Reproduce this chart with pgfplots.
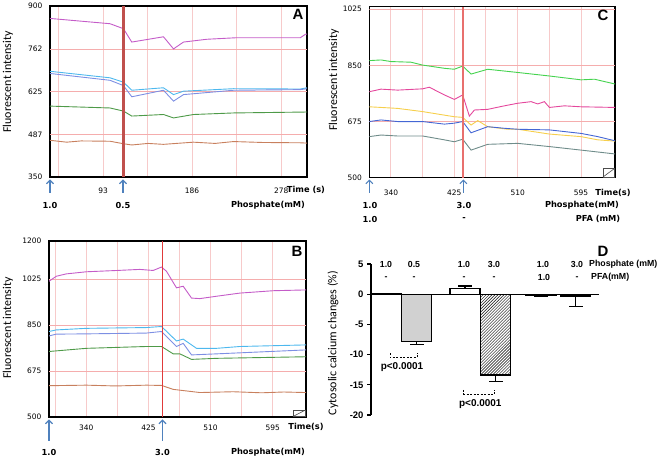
\documentclass[border=0pt]{standalone}
\usepackage{fontspec}
\setmainfont{Carlito}
\newfontfamily\verd{DejaVu Sans}
\newfontfamily\ari{Liberation Sans}
\usepackage{pgfplots}
\pgfplotsset{compat=1.18}
\usetikzlibrary{patterns,arrows.meta}

\definecolor{amag}{HTML}{C45CC8}
\definecolor{alb}{HTML}{4DB8EE}
\definecolor{ablu}{HTML}{7D8FE3}
\definecolor{agrn}{HTML}{4E9A48}
\definecolor{abrn}{HTML}{C8805E}
\definecolor{cgrn}{HTML}{45D34F}
\definecolor{cmag}{HTML}{E4479C}
\definecolor{cyel}{HTML}{F6CF4C}
\definecolor{cblu}{HTML}{4466D4}
\definecolor{cgry}{HTML}{6F8C8A}
\definecolor{arrowblue}{HTML}{4F81BD}
\definecolor{redA}{HTML}{C0504D}
\definecolor{redB}{HTML}{E03A3A}
\definecolor{redC}{HTML}{E8706E}
\definecolor{gridv}{HTML}{F7CACA}
\definecolor{gridh}{HTML}{F5ADAD}

\pgfplotsset{panel/.style={anchor=south west, scale only axis,
  axis line style={black,line width=1.2bp}, major tick length=0pt,
  xmajorgrids, x grid style={color=gridv, line width=1bp},
  tick label style={font=\verd\fontsize{7.5}{8}\selectfont},
  yticklabel style={xshift=-4bp},
  every axis plot/.append style={line width=0.9bp, mark=none}}}
\tikzset{up/.style={draw=arrowblue, line width=1.1bp, -{Straight Barb[length=3.5bp,width=7bp]}},
  hgrid/.style={draw=gridh, line width=0.6bp},
  lab/.style={font=\verd\bfseries\fontsize{8.3}{9}\selectfont, inner sep=0pt},
  yl/.style={rotate=90, font=\fontsize{12}{13}\selectfont, inner sep=0pt},
  dl/.style={font=\ari\bfseries\fontsize{8.8}{9}\selectfont, inner sep=0pt}}

\begin{document}
\begin{tikzpicture}
\useasboundingbox (0,0) rectangle (662bp,458bp);

% ---- A
\begin{axis}[panel, at={(50bp,281bp)}, width=257bp, height=171bp,
  xmin=37.6, xmax=306, ymin=350, ymax=900,
  xtick={46.5,93,139.5,186,232.5,279}, xticklabels={,93,,186,,278},
  ytick={350,487,625,762,900}, yticklabels={350,487,625,762,900},
  xticklabel style={yshift=-7bp}]
\pgfplotsinvokeforeach{487,625,762}{\draw[hgrid] (axis cs:37.6,#1) -- (axis cs:306,#1);}
\addplot[amag] coordinates {(37.6,860) (100.3,843) (114.3,827) (123,784) (156.1,801) (166.6,762) (177,784) (201.4,793) (232.8,798) (299.1,798) (304.3,809) (306,810)};
\addplot[alb] coordinates {(37.6,690) (100.3,669) (114.3,655) (123,629) (156.1,637) (166.6,615) (177,626) (229.3,634) (299.1,633) (306,637)};
\addplot[ablu] coordinates {(37.6,683) (100.3,661) (114.3,644) (123,608) (156.1,629) (166.6,594) (177,615) (229.3,629) (299.1,631) (306,634)};
\addplot[agrn] coordinates {(37.6,578) (100.3,572) (114.3,562) (123,546) (156.1,551) (166.6,540) (187.5,551) (229.3,556) (306,559)};
\addplot[abrn] coordinates {(37.6,468) (55,462) (70,466) (100.3,465) (114.3,457) (123,453) (140,458) (156.1,455) (187.5,462) (210,458) (229.3,464) (260,461) (299.1,460) (306,459)};
\addplot[redA, line width=2.2bp] coordinates {(114.3,350) (114.3,900)};
\end{axis}

% ---- B
\begin{axis}[panel, at={(49bp,41bp)}, width=257bp, height=176bp,
  xmin=289, xmax=640.6, ymin=500, ymax=1169,
  xtick={297.5,340,382.5,425,467.5,510,552.5,595}, xticklabels={,340,,425,,510,,595},
  ytick={500,675,850,1025,1169}, yticklabels={500,675,850,1025,1200},
  xticklabel style={yshift=-4bp}]
\pgfplotsinvokeforeach{675,850,1025}{\draw[hgrid] (axis cs:289,#1) -- (axis cs:640.6,#1);}
\addplot[amag] coordinates {(289,1016) (299,1035) (312.7,1044) (340.1,1052) (382.2,1057) (413.2,1061) (431.5,1057) (442.9,1070) (449.7,1054) (463.4,991) (472.6,997) (484,952) (495.4,950) (518.2,959) (550.2,971) (595.8,980) (640.6,983)};
\addplot[alb] coordinates {(289,825) (299,831) (340.1,837) (422.3,840) (442.9,844) (463.4,789) (472.6,796) (490.8,761) (518.2,761) (550.2,768) (640.6,774)};
\addplot[ablu] coordinates {(289,808) (299,815) (340.1,816) (422.3,819) (442.9,825) (463.4,768) (472.6,780) (484,736) (518.2,740) (640.6,755)};
\addplot[agrn] coordinates {(289,749) (340.1,761) (422.3,768) (442.9,768) (458.9,740) (468,740) (484,719) (518.2,723) (640.6,729)};
\addplot[abrn] coordinates {(289,619) (340.1,621) (380,618) (422.3,621) (442.9,620) (458.9,605) (495.4,593) (541,596) (580,592) (610,595) (640.6,593)};
\addplot[redB, line width=1.3bp] coordinates {(444.3,500) (444.3,1169)};
\end{axis}

% ---- C
\begin{axis}[panel, at={(369.3bp,280.3bp)}, width=245.7bp, height=171bp,
  xmin=311, xmax=640.6, ymin=500, ymax=1033,
  xtick={340,382.5,425,467.5,510,552.5,595}, xticklabels={340,,425,,510,,595},
  ytick={500,675,850,1025}, yticklabels={500,675,850,1025},
  xticklabel style={yshift=-9bp}]
\pgfplotsinvokeforeach{675,850,1025}{\draw[hgrid] (axis cs:311,#1) -- (axis cs:640.6,#1);}
\addplot[cgrn] coordinates {(311,865) (326.7,867) (340.1,862) (366.9,860) (382.6,851) (411.7,841) (425.1,838) (436.3,848) (447.5,823) (469.8,838) (510.1,828) (552.6,817) (595.1,805) (613,807) (640.6,792)};
\addplot[cmag] coordinates {(311,768) (326.7,776) (349,773) (382.6,777) (391.5,782) (411.7,758) (425.1,744) (436.3,758) (445.2,692) (452,711) (469.8,713) (492.2,724) (510.1,732) (528,737) (537,730) (545.9,737) (552.6,719) (572.7,724) (595.1,721) (640.6,719)};
\addplot[cyel] coordinates {(311,721) (326.7,719) (349,716) (382.6,706) (411.7,695) (425.1,690) (436.3,688) (447.5,664) (456.4,678) (469.8,659) (496.7,651) (510.1,651) (552.6,636) (595.1,628) (617.5,618) (640.6,614)};
\addplot[cblu] coordinates {(311,675) (326.7,680) (349,675) (382.6,675) (411.7,667) (425.1,670) (436.3,675) (447.5,640) (469.8,659) (492.2,654) (510.1,651) (552.6,649) (595.1,638) (617.5,628) (640.6,615)};
\addplot[cgry] coordinates {(311,628) (326.7,633) (349,630) (382.6,630) (411.7,618) (425.1,612) (436.3,620) (447.5,586) (469.8,604) (510.1,607) (552.6,597) (595.1,586) (640.6,574)};
\addplot[redC, line width=2.2bp] coordinates {(437.2,500) (437.2,1033)};
\end{axis}

% ---- D
\begin{axis}[at={(371bp,43bp)}, anchor=south west, scale only axis, width=228bp, height=151bp,
  xmin=0, xmax=228, ymin=-20, ymax=5, axis x line=none, axis y line=left,
  axis line style={-,black,line width=1.3bp},
  xtick=\empty, ytick={-20,-15,-10,-5,0,5}, yticklabels={-20,-15,-10,-5,0,5},
  tick align=outside, major tick length=4bp, tick style={black,line width=1.3bp},
  yticklabel style={font=\ari\bfseries\fontsize{9.5}{10}\selectfont},
  clip=false,
  bars/.style={ybar, bar width=30, bar shift=0pt, draw=black, line width=1.3bp,
    error bars/y explicit,
    error bars/error bar style={line width=1.3bp, black},
    error bars/error mark options={rotate=90, black, line width=1.3bp, mark size=7bp}}]
\addplot[bars, fill=white] coordinates {(15.5,0.15)};
\addplot[bars, fill=black!18, error bars/y dir=minus] coordinates {(45.5,-7.8) +- (0,0.5)};
\addplot[bars, fill=white, error bars/y dir=plus] coordinates {(94,1.0) +- (0,0.35)};
\addplot[bars, pattern=north east lines, error bars/y dir=minus] coordinates {(124.5,-13.4) +- (0,1.1)};
\addplot[bars, fill=white, error bars/y dir=minus] coordinates {(170,-0.2) +- (0,0.15)};
\addplot[bars, fill=white, error bars/y dir=minus] coordinates {(204.5,-0.3) +- (0,1.7)};
\addplot[black, line width=1.3bp, mark=none] coordinates {(0,0) (228,0)};
\end{axis}

% ---- annotations (pixel coordinates, y downwards)
\begin{scope}[x=1bp, y=-1bp, shift={(0bp,458bp)}]
% A
\node[yl] at (8,82) {Fluorescent intensity};
\node[font=\ari\bfseries\fontsize{15}{16}\selectfont] at (298,14) {A};
\node[lab] at (306,190) {Time (s)};
\draw[up] (50,193) -- (50,179.5);
\draw[up] (123,193) -- (123,179.5);
\node[lab] at (50,205) {1.0};
\node[lab] at (123,205) {0.5};
\node[lab] at (268,205) {Phosphate(mM)};
% B
\node[yl] at (8,328) {Fluorescent intensity};
\node[font=\ari\bfseries\fontsize{15}{16}\selectfont] at (297,251) {B};
\node[lab] at (306,427) {Time(s)};
\draw[up] (49,441) -- (49,419.5);
\draw[up] (162.5,441) -- (162.5,419.5);
\node[lab] at (49,452) {1.0};
\node[lab] at (162.5,452) {3.0};
\node[lab] at (268,452) {Phosphate(mM)};
\draw[black!70, line width=0.6bp, fill=white] (293,410) rectangle (305.5,416.5);
\draw[black!70, line width=0.6bp] (293,416.5) -- (305.5,410);
% C
\node[yl] at (334,80) {Fluorescent intensity};
\node[font=\ari\bfseries\fontsize{15}{16}\selectfont] at (603,15) {C};
\node[lab] at (613,193) {Time(s)};
\draw[up] (369.3,193) -- (369.3,179.5);
\draw[up] (463.4,193) -- (463.4,179.5);
\node[lab] at (370,205) {1.0};
\node[lab] at (464,205) {3.0};
\node[lab] at (582,205) {Phosphate(mM)};
\node[lab] at (370,219) {1.0};
\node[lab] at (464,219) {-};
\node[lab] at (598,219) {PFA (mM)};
\draw[black!70, line width=0.6bp, fill=white] (603,168.5) rectangle (614.5,177);
\draw[black!70, line width=0.6bp] (603,177) -- (614.5,168.5);
% D
\node[yl] at (333,343) {Cytosolic calcium changes (\%)};
\node[font=\ari\bfseries\fontsize{15}{16}\selectfont] at (603,251) {D};
\foreach \x/\t in {386/1.0,414/0.5,464/1.0,494/3.0,543/1.0,577/3.0}
  \node[dl] at (\x,264) {\t};
\foreach \x/\t in {386/-,414/-,464/-,494/-,544/1.0,577/-}
  \node[dl] at (\x,277.7) {\t};
\node[dl, anchor=west] at (589,264) {Phosphate (mM)};
\node[dl, anchor=west] at (591,277.7) {PFA(mM)};
\draw[black, line width=0.8bp, dash pattern=on 2bp off 1.5bp] (390.3,353.3) -- (390.3,357.7) -- (417,357.7) -- (417,353.3);
\node[dl, font=\ari\bfseries\fontsize{10}{11}\selectfont] at (402,367) {p<0.0001};
\draw[black, line width=0.8bp, dash pattern=on 2bp off 1.5bp] (463.7,390) -- (463.7,394) -- (494.3,394) -- (494.3,390);
\node[dl, font=\ari\bfseries\fontsize{10}{11}\selectfont] at (480.3,404) {p<0.0001};
\end{scope}
\end{tikzpicture}
\end{document}
